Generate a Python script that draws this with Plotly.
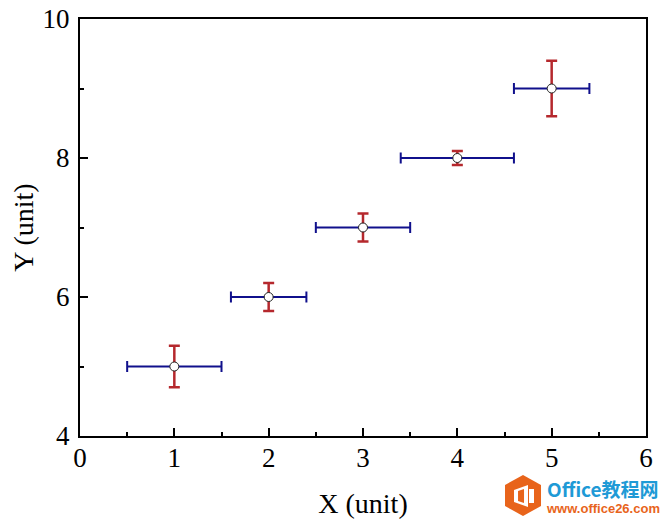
"""
Scatter points with x and y error bars, plus the site watermark
"""
import plotly.graph_objects as go

x_values = [1, 2, 3, 4, 5]
y_values = [5, 6, 7, 8, 9]
x_errors = [0.5, 0.4, 0.5, 0.6, 0.4]
y_errors = [0.3, 0.2, 0.2, 0.1, 0.4]

# The page body adds 8px on the left and top, so the figure is drawn 8px smaller
BODY = 8
WIDTH, HEIGHT = 668 - BODY, 523 - BODY
LEFT, RIGHT, TOP, BOTTOM = 80, 646, 19, 436
SERIF = "Liberation Serif"
CJK = "Noto Sans CJK SC"


def px(x):
    return (x - LEFT) / (RIGHT - LEFT)


def py(y):
    return (BOTTOM - y) / (BOTTOM - TOP)


def path(points):
    return "M " + " L ".join(f"{px(x):.4f},{py(y):.4f}" for x, y in points) + " Z"


fig = go.Figure()

fig.add_trace(
    go.Scatter(
        x=x_values,
        y=y_values,
        mode='markers',
        marker=dict(size=9, color='white', line=dict(color='#222222', width=1)),
        error_x=dict(type='data', array=x_errors, visible=True, color='#10108c', thickness=2, width=5.5),
        error_y=dict(type='data', array=y_errors, visible=True, color='#b5282d', thickness=2.5, width=5.5),
        showlegend=False
    )
)

# Watermark logo, drawn in pixel positions
logo = [
    dict(points=[(523, 475), (541, 485), (541, 506), (523, 516), (505, 506), (505, 485)], color='#e8641b'),
    dict(points=[(514, 490), (528, 485), (528, 507), (514, 502)], color='white'),
    dict(points=[(518, 491), (524, 489), (524, 503), (518, 501)], color='#e8641b'),
    dict(points=[(529, 489), (534, 489), (534, 503), (529, 503)], color='white'),
]
for part in logo:
    fig.add_shape(
        type='path', xref='paper', yref='paper', path=path(part['points']),
        fillcolor=part['color'], line=dict(width=0), layer='above'
    )

fig.add_annotation(
    text="<b>Office教程网</b>", xref='paper', yref='paper',
    x=px(545), y=py(488), xanchor='left', yanchor='middle', showarrow=False,
    font=dict(family=CJK, size=19, color='#1e9ad6')
)
fig.add_annotation(
    text="<b>www.office26.com</b>", xref='paper', yref='paper',
    x=px(544), y=py(508), xanchor='left', yanchor='middle', showarrow=False,
    font=dict(family="Liberation Sans", size=13, color='#e8641b')
)

axis_style = dict(
    showline=True, mirror=True, linecolor='black', linewidth=2,
    showgrid=False, zeroline=False, automargin=False,
    ticks='inside', ticklen=8, tickwidth=2, tickcolor='black',
    ticklabeloverflow='allow',
    tickfont=dict(family=SERIF, size=27, color='black')
)

fig.update_xaxes(
    range=[0, 6], dtick=1, tick0=0, ticklabelstandoff=-3,
    minor=dict(dtick=0.5, tick0=0, ticks='inside', ticklen=4, tickwidth=2, tickcolor='black', showgrid=False),
    title=dict(text="X (unit)", font=dict(family=SERIF, size=28, color='black'), standoff=21),
    **axis_style
)
fig.update_yaxes(
    range=[4, 10], dtick=2, tick0=4, ticklabelstandoff=3,
    minor=dict(dtick=1, tick0=4, ticks='inside', ticklen=4, tickwidth=2, tickcolor='black', showgrid=False),
    title=dict(text="Y (unit)", font=dict(family=SERIF, size=28, color='black'), standoff=18),
    **axis_style
)

fig.update_layout(
    width=WIDTH,
    height=HEIGHT,
    autosize=False,
    template='plotly_white',
    paper_bgcolor='white',
    plot_bgcolor='white',
    margin=dict(l=LEFT - BODY, r=WIDTH + BODY - RIGHT, t=TOP - BODY, b=HEIGHT + BODY - BOTTOM, pad=0)
)

fig.write_html("out.html")
